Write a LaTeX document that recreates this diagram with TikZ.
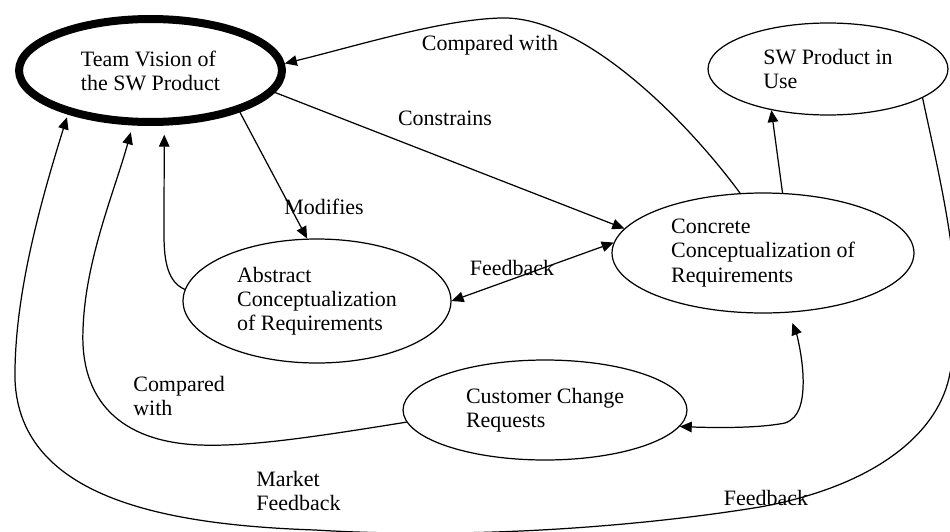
\documentclass[tikz,border=0pt]{standalone}
\usepackage{fontspec}
\setmainfont{Liberation Serif}
\usetikzlibrary{arrows.meta,shapes.geometric}
\begin{document}
\begin{tikzpicture}[x=0.02cm,y=-0.02cm,
  every node/.style={font=\fontsize{12.5}{13.7}\selectfont},
  oval/.style={draw, ellipse, line width=0.7pt, inner sep=0pt, align=left},
  conn/.style={line width=0.7pt, -{Triangle[length=0.24cm,width=0.21cm]}},
  dconn/.style={line width=0.7pt, {Triangle[length=0.24cm,width=0.21cm]}-{Triangle[length=0.24cm,width=0.21cm]}},
  lbl/.style={inner sep=0pt, align=left}]
\clip (0,0) rectangle (950,531);
\fill[white] (0,0) rectangle (950,531);
% nodes
\node[oval, line width=0.16cm, minimum width=5.26cm, minimum height=2.06cm] (team) at (150.5,70.5) {Team Vision of\\the SW Product};
\node[oval, minimum width=4.8cm, minimum height=1.84cm] (use) at (828,69) {SW Product in\\Use};
\node[oval, minimum width=6.04cm, minimum height=2.4cm] (conc) at (763,253) {Concrete\\Conceptualization of\\Requirements};
\node[oval, minimum width=5.36cm, minimum height=2.48cm] (abs) at (317,301) {Abstract\\Conceptualization\\of Requirements};
\node[oval, minimum width=5.68cm, minimum height=2.0cm] (cust) at (545,410) {Customer Change\\Requests};
% connectors
\draw[conn] (conc.111) .. controls (690,125) and (585,15) .. (500,18) .. controls (440,20) and (360,45) .. (team.3);
\draw[conn] (team.-10) -- (conc.170);
\draw[conn] (team.-25) -- (abs.99);
\draw[conn, shorten >=0.18cm] (abs.175) .. controls (168,282) and (164,262) .. (164,235) -- (team.-76);
\draw[dconn] (abs.0) -- (conc.176);
\draw[conn] (conc.72) -- (use.216);
\draw[conn, shorten >=0.14cm] (cust.185) .. controls (320,436) and (250,447) .. (200,445) .. controls (120,442) and (80,400) .. (83,330) .. controls (85,260) and (115,190) .. (team.-108);
\draw[dconn, shorten >=0.22cm] (cust.-7.5) .. controls (720,428) and (760,428) .. (785,423) .. controls (800,418) and (804,400) .. (803,375) .. controls (802,355) and (797,335) .. (conc.-67);
\draw[conn, shorten >=0.06cm] (use.-17) .. controls (940,180) and (970,300) .. (950,373) .. controls (940,430) and (880,485) .. (760,507) .. controls (650,525) and (480,540) .. (315,530) .. controls (170,525) and (20,500) .. (15,380) .. controls (14,300) and (38,210) .. (team.-152);
% labels
\node[lbl] (l1) at (490,45) {Compared with};
\node[lbl] (l2) at (445,118) {Constrains};
\node[lbl] (l3) at (324,207) {Modifies};
\node[lbl] (l4) at (512,268) {Feedback};
\node[lbl, anchor=west] (l5) at (133,396) {Compared\\with};
\node[lbl, anchor=west] (l6) at (256,491) {Market\\Feedback};
\node[lbl] (l7) at (766,498) {Feedback};
\end{tikzpicture}
\end{document}
